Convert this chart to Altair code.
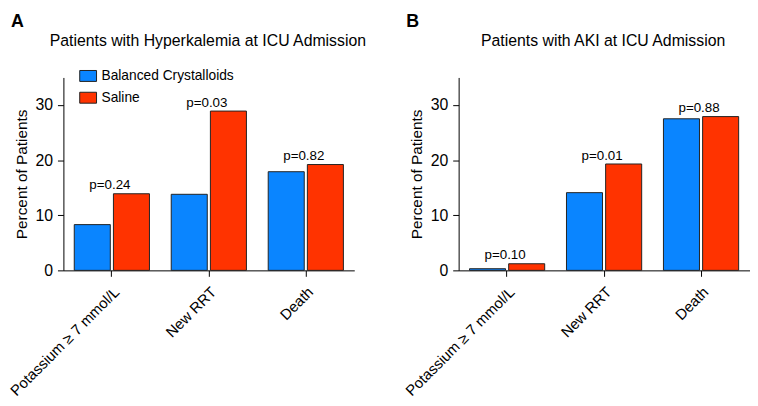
import altair as alt
import pandas as pd

FONT = "Liberation Sans"

categories = ["Potassium \u2265 7 mmol/L", "New RRT", "Death"]
groups = ["Balanced Crystalloids", "Saline"]
colors = ["#0A85FF", "#FF3300"]

a_letter = "A"
a_title = "Patients with Hyperkalemia at ICU Admission"
a_balanced = [8.3, 13.8, 17.9]
a_saline = [13.9, 28.9, 19.2]
a_p = ["p=0.24", "p=0.03", "p=0.82"]

b_letter = "B"
b_title = "Patients with AKI at ICU Admission"
b_balanced = [0.3, 14.1, 27.5]
b_saline = [1.2, 19.3, 27.9]
b_p = ["p=0.10", "p=0.01", "p=0.88"]

y_ticks = [0, 10, 20, 30]
y_title = "Percent of Patients"


def panel(letter, title, bal, sal, pvals, legend_x):
    bars_df = pd.DataFrame({
        "category": categories * 2,
        "group": [groups[0]] * len(categories) + [groups[1]] * len(categories),
        "value": list(bal) + list(sal),
    })
    p_df = pd.DataFrame({
        "category": categories,
        "p": pvals,
        "top": [max(a, b) for a, b in zip(bal, sal)],
    })
    head_df = pd.DataFrame({"letter": [letter], "title": [title]})

    x_axis = alt.Axis(labelAngle=-45, labelFontSize=15, labelColor="black",
                      tickSize=6, tickColor="black", domainColor="black",
                      labelPadding=8, grid=False)
    x = alt.X("category:N", sort=categories, title=None,
              scale=alt.Scale(paddingInner=0.2245, paddingOuter=0.112),
              axis=x_axis)
    y_axis = alt.Axis(values=y_ticks, labelFontSize=16, labelColor="black",
                      tickSize=6, tickColor="black", domainColor="black",
                      labelPadding=5, grid=False, titleFontSize=15.5,
                      titleFontWeight="normal", titleColor="black",
                      titlePadding=6)
    y_scale = alt.Scale(domain=[0, 35], nice=False)

    bars = alt.Chart(bars_df).mark_bar(stroke="#222222", strokeWidth=1).encode(
        x=x,
        xOffset=alt.XOffset("group:N", sort=groups,
                            scale=alt.Scale(paddingInner=0.08)),
        y=alt.Y("value:Q", scale=y_scale, title=y_title, axis=y_axis),
        fill=alt.Fill("group:N", sort=groups,
                      scale=alt.Scale(domain=groups, range=colors),
                      legend=alt.Legend(orient="none", legendX=legend_x, legendY=-10.5,
                                        title=None,
                                        symbolType="M-1,-0.65H1V0.65H-1Z",
                                        symbolSize=289,
                                        symbolStrokeColor="#222222",
                                        symbolStrokeWidth=1,
                                        symbolOpacity=1,
                                        labelFontSize=13.9, labelFont=FONT,
                                        labelColor="black", labelOffset=4.5,
                                        rowPadding=5, padding=0)),
    )
    ptext = alt.Chart(p_df).mark_text(baseline="alphabetic", dy=-4.5, dx=-2,
                                      fontSize=13.5, font=FONT,
                                      color="black").encode(
        x=alt.X("category:N", sort=categories, title=None),
        y=alt.Y("top:Q", scale=y_scale, title=y_title),
        text="p:N",
    )
    letter_t = alt.Chart(head_df).mark_text(align="left", baseline="alphabetic",
                                            fontSize=18, fontWeight="bold",
                                            font=FONT, color="black").encode(
        x=alt.value(-53), y=alt.value(-51), text="letter:N")
    title_t = alt.Chart(head_df).mark_text(align="center", baseline="middle",
                                           fontSize=16, font=FONT,
                                           color="black").encode(
        x=alt.value(146), y=alt.value(-37), text="title:N")
    return alt.layer(bars, ptext, letter_t, title_t).properties(width=294, height=195)


chart = alt.hconcat(
    panel(a_letter, a_title, a_balanced, a_saline, a_p, 16),
    panel(b_letter, b_title, b_balanced, b_saline, b_p, 16),
    spacing=105.5, bounds="flush",
).resolve_scale(color="independent").resolve_legend(color="independent").properties(
    autosize=alt.AutoSizeParams(type="none"),
    padding={"left": 56, "top": 67, "right": 694, "bottom": 331},
).configure_view(stroke=None).configure_axis(labelFont=FONT, titleFont=FONT)

chart.save("out.html", embed_options={"renderer": "svg", "actions": False})
